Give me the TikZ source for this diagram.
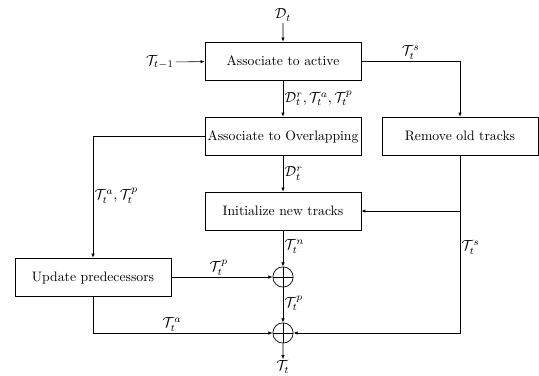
\documentclass[tikz,border=0pt]{standalone}
\usetikzlibrary{arrows.meta,calc}
\begin{document}
\begin{tikzpicture}[x=0.73pt,y=-0.73pt,
  blk/.style={draw,line width=0.5pt,minimum width=113.9pt,minimum height=27.7pt,inner sep=0pt,text depth=0pt},
  con/.style={line width=0.4pt,-{Latex[length=3pt,width=2.4pt]}},
  sumnode/.style={draw,circle,line width=0.5pt,minimum size=14.8pt,inner sep=0pt,
    path picture={\draw[line width=0.4pt] (path picture bounding box.north) -- (path picture bounding box.south)
      (path picture bounding box.west) -- (path picture bounding box.east);}},
  lbl/.style={inner sep=1pt,scale=1.06}]
\useasboundingbox (0,0) rectangle (539,375);
\node[blk] (b1) at (283,61) {Associate to active};
\node[blk] (b2) at (283,136) {Associate to Overlapping};
\node[blk] (b3) at (283,211) {Initialize new tracks};
\node[blk] (rem) at (460,136) {Remove old tracks};
\node[blk] (upd) at (93,277) {Update predecessors};
\node[sumnode] (s1) at (283,277) {};
\node[sumnode] (s2) at (283,333) {};
\node[lbl] (dt) at (283,15) {$\mathcal{D}_t$};
\node[lbl] (tprev) at (160,62) {$\mathcal{T}_{t-1}$};
\node[lbl] (tout) at (283,367) {$\mathcal{T}_t$};
\coordinate (c1) at (460,61);
\coordinate (c2) at (460,333);
\coordinate (c3) at (93,136);
\draw[con] (dt) -- (b1);
\draw[con] (tprev) -- (b1);
\draw[con] (b1) -- node[right,lbl,pos=0.5] {$\mathcal{D}_t^r, \mathcal{T}_t^a, \mathcal{T}_t^p$} (b2);
\draw[con] (b1.east) -- node[above,lbl,pos=0.5] {$\mathcal{T}_t^s$} (c1) -- (rem.north);
\draw[con] (b2.west) -- (c3) -- node[right,lbl,pos=0.49] {$\mathcal{T}_t^a, \mathcal{T}_t^p$} (upd.north);
\draw[con] (b2) -- node[right,lbl,pos=0.5] {$\mathcal{D}_t^r$} (b3);
\draw[con] (rem.south |- b3.east) -- (b3.east);
\draw[con] (rem.south) -- node[right,lbl,pos=0.52] {$\mathcal{T}_t^s$} (c2) -- (s2.east);
\draw[con] (b3) -- node[right,lbl,pos=0.45] {$\mathcal{T}_t^n$} (s1);
\draw[con] (upd.east) -- node[above,lbl,pos=0.47] {$\mathcal{T}_t^p$} (s1.west);
\draw[con] (s1) -- node[right,lbl,pos=0.45] {$\mathcal{T}_t^p$} (s2);
\draw[con] (upd.south) |- node[above,lbl,pos=0.72] {$\mathcal{T}_t^a$} (s2.west);
\draw[con] (s2) -- (tout);
\end{tikzpicture}
\end{document}
